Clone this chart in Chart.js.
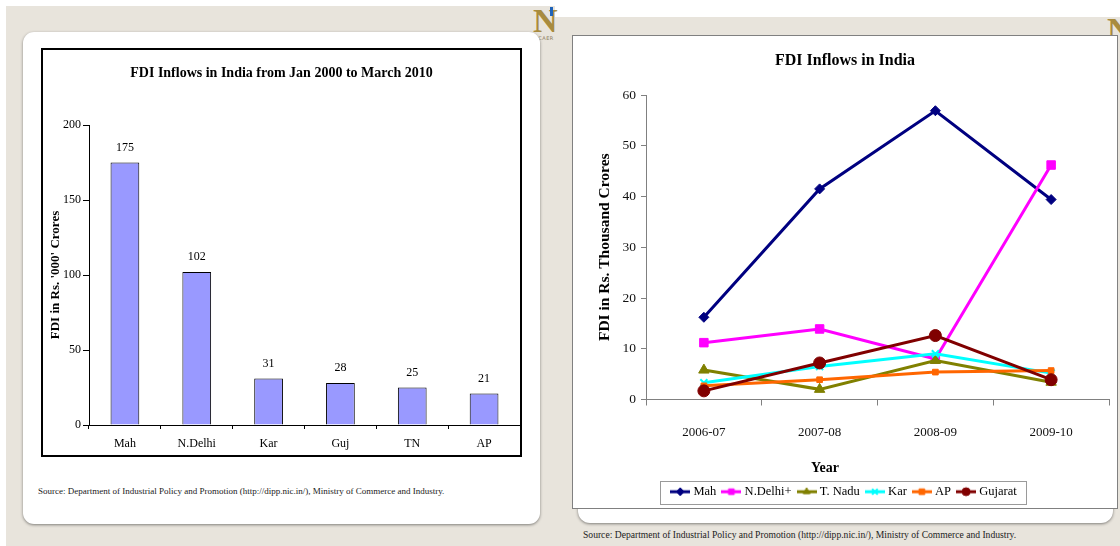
<!DOCTYPE html>
<html>
<head>
<meta charset="utf-8">
<script src="https://cdn.jsdelivr.net/npm/chart.js@4.4.1/dist/chart.umd.min.js"></script>
<style>
  html, body { margin: 0; padding: 0; width: 1120px; height: 546px; overflow: hidden; background: #fff; font-family: 'Liberation Serif', 'Times New Roman', serif; }
  .abs { position: absolute; }
  #bgL { left: 6px; top: 6px; width: 549px; height: 540px; background: #E8E4DC; }
  #bgR { left: 555px; top: 17px; width: 565px; height: 529px; background: #E8E4DC; }
  #cardL { left: 23px; top: 32px; width: 517px; height: 492px; background: #fff; border-radius: 11px; box-shadow: 0 1px 3px rgba(0,0,0,0.45); }
  #cardR { left: 578px; top: 60px; width: 535px; height: 463px; background: #fff; border-radius: 12px; box-shadow: 0 1px 3px rgba(0,0,0,0.45); }
  #frameL { left: 41px; top: 48px; width: 477px; height: 405px; border: 2px solid #000; background: #fff; }
  #frameR { left: 572px; top: 35px; width: 544px; height: 472px; border: 1px solid #808080; background: #fff; }
  canvas { display: block; }
  .src { font-size: 9px; color: #222; white-space: nowrap; }
  .logoN { font-family: 'Liberation Serif', serif; font-weight: bold; color: #A88B3E; font-size: 34px; line-height: 1; }
  .logoBar { background: #1F63B8; }
  .logoTxt { font-family: 'DejaVu Sans', sans-serif; font-size: 5px; color: #8A7A5A; letter-spacing: 0.5px; }
</style>
</head>
<body>
<div id="bgL" class="abs"></div>
<div id="bgR" class="abs"></div>

<div class="abs logoN" style="left:533px;top:4px;">N</div>
<div class="abs logoBar" style="left:550px;top:7px;width:3px;height:9px;"></div>
<div class="abs logoTxt" style="left:534px;top:35px;">NCAER</div>
<div class="abs logoN" style="left:1107px;top:13px;">N</div>

<div id="cardL" class="abs"></div>
<div id="frameL" class="abs"><canvas id="barChart" width="477" height="405"></canvas></div>
<div class="abs src" style="left:38px;top:486px;">Source: Department of Industrial Policy and Promotion (http://dipp.nic.in/), Ministry of Commerce and Industry.</div>

<div id="cardR" class="abs"></div>
<div id="frameR" class="abs"><canvas id="lineChart" width="544" height="472"></canvas></div>
<div class="abs src" style="left:583px;top:529px;font-size:9.6px;">Source: Department of Industrial Policy and Promotion (http://dipp.nic.in/), Ministry of Commerce and Industry.</div>

<script>
// ---- Cumulative FDI inflows by state (Rs. '000 crores), Jan 2000 - Mar 2010 ----
const stateNames = ['Mah', 'N.Delhi', 'Kar', 'Guj', 'TN', 'AP'];
const stateTotals = [175, 102, 31, 28, 25, 21];
const totalTicks = [0, 50, 100, 150, 200];

// ---- Yearly FDI inflows by state (Rs. thousand crores) ----
const years = ['2006-07', '2007-08', '2008-09', '2009-10'];
const mahYearly = [16.2, 41.5, 56.9, 39.4];
const delhiYearly = [11.2, 13.9, 8.0, 46.2];
const tnaduYearly = [5.8, 2.0, 7.7, 3.4];
const karYearly = [3.3, 6.5, 9.0, 5.2];
const apYearly = [2.7, 3.9, 5.4, 5.7];
const gujYearly = [1.7, 7.2, 12.6, 3.9];
const yearlyTicks = [0, 10, 20, 30, 40, 50, 60];

const SERIF = "'Liberation Serif', 'Times New Roman', serif";

// value labels above each bar
const barValueLabels = {
  id: 'barValueLabels',
  afterDatasetsDraw(chart) {
    const ctx = chart.ctx;
    const meta = chart.getDatasetMeta(0);
    ctx.save();
    ctx.font = '12px ' + SERIF;
    ctx.fillStyle = '#000';
    ctx.textAlign = 'center';
    ctx.textBaseline = 'middle';
    meta.data.forEach((bar, i) => {
      ctx.fillText(String(chart.data.datasets[0].data[i]), bar.x, bar.y - 15);
    });
    ctx.restore();
  }
};

new Chart(document.getElementById('barChart'), {
  type: 'bar',
  data: {
    labels: stateNames,
    datasets: [{
      data: stateTotals,
      backgroundColor: '#9999FF',
      borderColor: '#000',
      borderWidth: 1,
      barPercentage: 0.4,
      categoryPercentage: 1.0
    }]
  },
  options: {
    responsive: false,
    animation: false,
    layout: { padding: 0 },
    plugins: {
      legend: { display: false },
      tooltip: { enabled: false },
      title: {
        display: true,
        text: 'FDI Inflows in India from Jan 2000 to March 2010',
        color: '#000',
        font: { family: SERIF, size: 14, weight: 'bold' },
        padding: { top: 14.6, bottom: 43.6 }
      }
    },
    scales: {
      x: {
        offset: true,
        grid: { display: true, drawOnChartArea: false, offset: true, tickLength: 4, color: '#000' },
        border: { color: '#000', width: 1 },
        ticks: { color: '#000', padding: 8, font: { family: SERIF, size: 12 }, maxRotation: 0 },
        afterFit(s) { s.height = 30; }
      },
      y: {
        min: 0, max: 200,
        afterBuildTicks(s) { s.ticks = totalTicks.map(v => ({ value: v })); },
        grid: { display: true, drawOnChartArea: false, tickLength: 6, color: '#000' },
        border: { color: '#000', width: 1 },
        ticks: { color: '#000', padding: 2, font: { family: SERIF, size: 12 } },
        title: {
          display: true,
          text: "FDI in Rs. '000' Crores",
          color: '#000',
          font: { family: SERIF, size: 13, weight: 'bold' },
          padding: { top: 5.2, bottom: 0 }
        },
        afterFit(s) { s.width = 46; }
      }
    }
  },
  plugins: [barValueLabels]
});

// ---- line chart ----
const seriesStyle = [
  { label: 'Mah',       data: mahYearly,   color: '#000080', point: 'rectRot',  radius: 5 },
  { label: 'N.Delhi+',  data: delhiYearly, color: '#FF00FF', point: 'rect',     radius: 6 },
  { label: 'T. Nadu',   data: tnaduYearly, color: '#808000', point: 'triangle', radius: 6 },
  { label: 'Kar',       data: karYearly,   color: '#00FFFF', point: 'crossRot', radius: 5 },
  { label: 'AP',        data: apYearly,    color: '#FF6600', point: 'rect',     radius: 4 },
  { label: 'Gujarat',   data: gujYearly,   color: '#800000', point: 'circle',   radius: 6 }
];

// legend swatch: short line with the series marker in the middle
function legendSwatch(s) {
  const c = document.createElement('canvas');
  c.width = 20; c.height = 12;
  const g = c.getContext('2d');
  g.strokeStyle = s.color;
  g.fillStyle = s.color;
  g.lineWidth = 3;
  g.beginPath(); g.moveTo(0, 6); g.lineTo(20, 6); g.stroke();
  g.lineWidth = s.point === 'crossRot' ? 2 : 1;
  Chart.helpers.drawPoint(g, { pointStyle: s.point, radius: 4, borderWidth: g.lineWidth }, 10, 6);
  return c;
}

const legendFrame = {
  id: 'legendFrame',
  afterDraw(chart) {
    const boxes = chart.legend.legendHitBoxes;
    if (!boxes || !boxes.length) return;
    const left = Math.min(...boxes.map(b => b.left)) - 13;
    const right = Math.max(...boxes.map(b => b.left + b.width)) + 9;
    const top = Math.min(...boxes.map(b => b.top)) - 5;
    const bottom = Math.max(...boxes.map(b => b.top + b.height)) + 5;
    const ctx = chart.ctx;
    ctx.save();
    ctx.strokeStyle = '#9a9a9a';
    ctx.lineWidth = 1;
    ctx.strokeRect(Math.round(left) + 0.5, Math.round(top) + 0.5, Math.round(right - left), Math.round(bottom - top));
    ctx.restore();
  }
};

// x axis caption "Year"
const xCaption = {
  id: 'xCaption',
  afterDraw(chart) {
    const ctx = chart.ctx;
    ctx.save();
    ctx.font = 'bold 14px ' + SERIF;
    ctx.fillStyle = '#000';
    ctx.textAlign = 'center';
    ctx.textBaseline = 'middle';
    ctx.fillText('Year', chart.width / 2 - 20, 432);
    ctx.restore();
  }
};

new Chart(document.getElementById('lineChart'), {
  type: 'line',
  data: {
    labels: years,
    datasets: seriesStyle.map((s, i) => ({
      label: s.label,
      data: s.data,
      borderColor: s.color,
      backgroundColor: s.color,
      borderWidth: 3,
      pointStyle: s.point,
      pointRadius: s.radius,
      pointBorderWidth: s.point === 'crossRot' ? 2 : 1,
      pointBackgroundColor: s.color,
      pointBorderColor: s.color,
      tension: 0,
      fill: false,
      order: seriesStyle.length - i
    }))
  },
  options: {
    responsive: false,
    animation: false,
    layout: { padding: { left: 8, right: 8, top: 0, bottom: 0 } },
    plugins: {
      tooltip: { enabled: false },
      title: {
        display: true,
        text: 'FDI Inflows in India',
        color: '#000',
        font: { family: SERIF, size: 16, weight: 'bold' },
        padding: { top: 15.4, bottom: 24.4 }
      },
      legend: {
        position: 'bottom',
        labels: {
          usePointStyle: true,
          pointStyleWidth: 14,
          padding: 8,
          color: '#000',
          font: { family: SERIF, size: 12.5 },
          generateLabels(chart) {
            return chart.data.datasets.map((ds, i) => ({
              text: ds.label,
              fillStyle: ds.borderColor,
              strokeStyle: ds.borderColor,
              lineWidth: 0,
              pointStyle: legendSwatch(seriesStyle[i]),
              hidden: false,
              datasetIndex: i
            }));
          }
        }
      }
    },
    scales: {
      x: {
        offset: true,
        grid: { display: true, drawOnChartArea: false, offset: true, tickLength: 6, color: '#808080' },
        border: { color: '#808080', width: 1 },
        ticks: { color: '#111', padding: 19, font: { family: SERIF, size: 13 }, maxRotation: 0 },
        afterFit(s) { s.height = 78; }
      },
      y: {
        min: 0, max: 60,
        afterBuildTicks(s) { s.ticks = yearlyTicks.map(v => ({ value: v })); },
        grid: { display: true, drawOnChartArea: false, tickLength: 5, color: '#808080' },
        border: { color: '#808080', width: 1 },
        ticks: { color: '#111', padding: 5, font: { family: SERIF, size: 13.5 } },
        title: {
          display: true,
          text: 'FDI in Rs. Thousand Crores',
          color: '#000',
          font: { family: SERIF, size: 15.5, weight: 'bold' },
          padding: { top: 14.7, bottom: 0 }
        },
        afterFit(s) { s.width = 65; }
      }
    }
  },
  plugins: [legendFrame, xCaption]
});
</script>
</body>
</html>
